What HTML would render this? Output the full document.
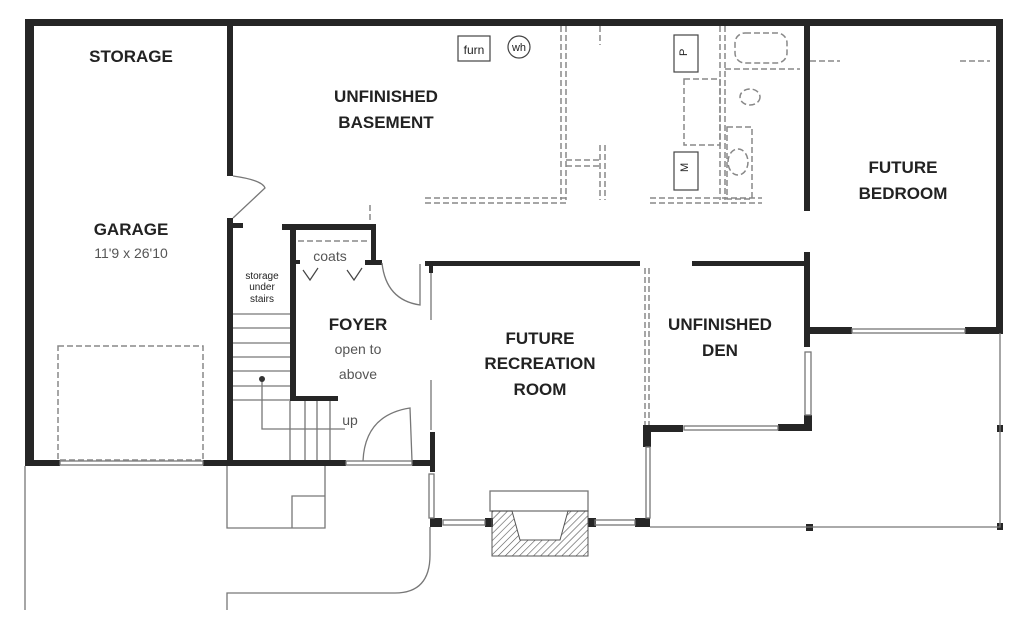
<!DOCTYPE html>
<html><head><meta charset="utf-8"><style>
html,body{margin:0;padding:0;background:#fff}
svg{display:block}
text{font-family:"Liberation Sans",sans-serif;fill:#222}
.b{font-weight:bold;font-size:17px}
.l{font-size:14px;fill:#555}
</style></head><body>
<svg width="1024" height="633" viewBox="0 0 1024 633" xmlns="http://www.w3.org/2000/svg">
<g fill="#262626">
<!-- outer walls -->
<rect x="25" y="19" width="978" height="7"/>
<rect x="25" y="19" width="9" height="447"/>
<rect x="996" y="19" width="7" height="314"/>
<rect x="227" y="26" width="6" height="150"/>
<rect x="227" y="218" width="6" height="248"/>
<rect x="227" y="223" width="16" height="5"/>
<rect x="25" y="460" width="35" height="6"/>
<rect x="203" y="460" width="143" height="6"/>
<rect x="412" y="460" width="22" height="6"/>
<!-- foyer -->
<rect x="282" y="224" width="93" height="6"/>
<rect x="290" y="224" width="6" height="176"/>
<rect x="290" y="396" width="48" height="5"/>
<rect x="371" y="224" width="5" height="40"/>
<rect x="365" y="260" width="17" height="5"/>
<rect x="290" y="260" width="10" height="4"/>
<!-- rec room -->
<rect x="425" y="261" width="215" height="5"/>
<rect x="429" y="261" width="4" height="12"/>
<rect x="430" y="432" width="5" height="40"/>
<rect x="430" y="518" width="12" height="9"/>
<rect x="485" y="518" width="8" height="9"/>
<rect x="588" y="518" width="8" height="9"/>
<rect x="635" y="518" width="15" height="9"/>
<rect x="643" y="425" width="8" height="22"/>
<rect x="643" y="425" width="40" height="7"/>
<rect x="778" y="424" width="34" height="7"/>
<rect x="804" y="415" width="8" height="15"/>
<rect x="692" y="261" width="116" height="5"/>
<rect x="804" y="252" width="6" height="95"/>
<rect x="804" y="26" width="6" height="185"/>
<rect x="806" y="327" width="46" height="7"/>
<rect x="965" y="327" width="38" height="7"/>
<rect x="806" y="524" width="7" height="7"/>
<rect x="997" y="425" width="6" height="7"/>
<rect x="997" y="523" width="6" height="7"/>
</g>
<g fill="none" stroke="#777" stroke-width="1.3">
<!-- windows -->
<rect x="852" y="329" width="113" height="4"/>
<rect x="684" y="426" width="94" height="4"/>
<rect x="805" y="352" width="6" height="63"/>
<rect x="646" y="447" width="4" height="71"/>
<rect x="595" y="520" width="40" height="5"/>
<rect x="443" y="520" width="42" height="5"/>
<rect x="429" y="474" width="5" height="44"/>
<rect x="60" y="461" width="143" height="4"/>
<rect x="346" y="461" width="66" height="4"/>
<line x1="431" y1="273" x2="431" y2="320"/>
<line x1="431" y1="380" x2="431" y2="430"/>
<!-- porch -->
<polyline points="650,527 1000,527 1000,333"/>
<line x1="25" y1="466" x2="25" y2="610"/>
<polyline points="227,466 227,528 325,528 325,466"/>
<polyline points="292,528 292,496 325,496"/>
<path d="M430,527 L430,555 Q430,593 395,593 L227,593 L227,610"/>
<!-- stairs -->
<line x1="233" y1="314" x2="290" y2="314"/>
<line x1="233" y1="328" x2="290" y2="328"/>
<line x1="233" y1="343" x2="290" y2="343"/>
<line x1="233" y1="357" x2="290" y2="357"/>
<line x1="233" y1="371" x2="290" y2="371"/>
<line x1="233" y1="386" x2="290" y2="386"/>
<line x1="233" y1="400" x2="290" y2="400"/>
<line x1="290" y1="401" x2="290" y2="460"/>
<line x1="305" y1="401" x2="305" y2="460"/>
<line x1="317" y1="401" x2="317" y2="460"/>
<line x1="330" y1="401" x2="330" y2="460"/>
<polyline points="262,379 262,429 345,429"/>
<!-- doors -->
<path d="M233,176 Q262,180 265,188 L233,218"/>
<path d="M382,263 Q386,300 420,305 L420,264"/>
<path d="M363,461 Q365,415 410,408 L412,461"/>
<!-- fireplace -->
<rect x="490" y="491" width="98" height="20"/>
</g>
<circle cx="262" cy="379" r="3" fill="#333"/>
<g>
<defs><pattern id="h" width="5" height="5" patternUnits="userSpaceOnUse" patternTransform="rotate(45)"><line x1="0" y1="0" x2="0" y2="5" stroke="#555" stroke-width="1.2"/></pattern></defs>
<path d="M492,511 L512,511 L520,540 L560,540 L568,511 L588,511 L588,556 L492,556 Z" fill="url(#h)" stroke="#555"/>
</g>
<!-- dashed basement -->
<g fill="none" stroke="#888" stroke-width="1.5" stroke-dasharray="6,3">
<rect x="58" y="346" width="145" height="114"/>
<line x1="561" y1="26" x2="561" y2="200"/>
<line x1="566" y1="26" x2="566" y2="200"/>
<line x1="600" y1="26" x2="600" y2="45"/>
<line x1="600" y1="145" x2="600" y2="200"/>
<line x1="605" y1="145" x2="605" y2="200"/>
<line x1="566" y1="160" x2="600" y2="160"/>
<line x1="566" y1="166" x2="600" y2="166"/>
<line x1="425" y1="198" x2="566" y2="198"/>
<line x1="425" y1="203" x2="566" y2="203"/>
<line x1="650" y1="198" x2="762" y2="198"/>
<line x1="650" y1="203" x2="762" y2="203"/>
<line x1="720" y1="26" x2="720" y2="200"/>
<line x1="725" y1="26" x2="725" y2="200"/>
<rect x="684" y="79" width="36" height="66"/>
<rect x="735" y="33" width="52" height="30" rx="10"/>
<line x1="725" y1="69" x2="800" y2="69"/>
<rect x="727" y="127" width="25" height="72"/>
<ellipse cx="738" cy="162" rx="10" ry="13"/>
<ellipse cx="750" cy="97" rx="10" ry="8"/>
<line x1="810" y1="61" x2="840" y2="61"/>
<line x1="645" y1="268" x2="645" y2="425"/>
<line x1="649" y1="268" x2="649" y2="425"/>
<line x1="370" y1="205" x2="370" y2="222"/>
<line x1="298" y1="241" x2="370" y2="241"/>
<line x1="960" y1="61" x2="990" y2="61"/>
</g>
<g fill="none" stroke="#444" stroke-width="1.2">
<rect x="674" y="35" width="24" height="37"/>
<rect x="674" y="152" width="24" height="38"/>
<rect x="458" y="36" width="32" height="25"/>
<circle cx="519" cy="47" r="11"/>
<polyline points="303,270 310,280 318,268"/>
<polyline points="347,270 354,280 362,268"/>
</g>
<text x="683" y="60" font-size="11" transform="rotate(-90 683 56)">P</text>
<text x="683" y="177" font-size="11" transform="rotate(-90 683 172)">M</text>
<text x="474" y="54" font-size="12" text-anchor="middle">furn</text>
<text x="519" y="51" font-size="11" text-anchor="middle">wh</text>
<text class="b" x="131" y="62" text-anchor="middle">STORAGE</text>
<text class="b" x="386" y="102" text-anchor="middle">UNFINISHED</text>
<text class="b" x="386" y="128" text-anchor="middle">BASEMENT</text>
<text class="b" x="131" y="235" text-anchor="middle">GARAGE</text>
<text class="l" x="131" y="258" text-anchor="middle">11'9  x  26'10</text>
<text class="b" x="903" y="173" text-anchor="middle">FUTURE</text>
<text class="b" x="903" y="199" text-anchor="middle">BEDROOM</text>
<text class="b" x="540" y="344" text-anchor="middle">FUTURE</text>
<text class="b" x="540" y="369" text-anchor="middle">RECREATION</text>
<text class="b" x="540" y="395" text-anchor="middle">ROOM</text>
<text class="b" x="720" y="330" text-anchor="middle">UNFINISHED</text>
<text class="b" x="720" y="356" text-anchor="middle">DEN</text>
<text class="b" x="358" y="330" text-anchor="middle">FOYER</text>
<text class="l" x="358" y="354" text-anchor="middle">open  to</text>
<text class="l" x="358" y="379" text-anchor="middle">above</text>
<text class="l" x="330" y="261" text-anchor="middle">coats</text>
<text x="262" y="279" font-size="10" fill="#555" text-anchor="middle">storage</text>
<text x="262" y="290" font-size="10" fill="#555" text-anchor="middle">under</text>
<text x="262" y="302" font-size="10" fill="#555" text-anchor="middle">stairs</text>
<text class="l" x="350" y="425" text-anchor="middle">up</text>
</svg>
</body></html>
